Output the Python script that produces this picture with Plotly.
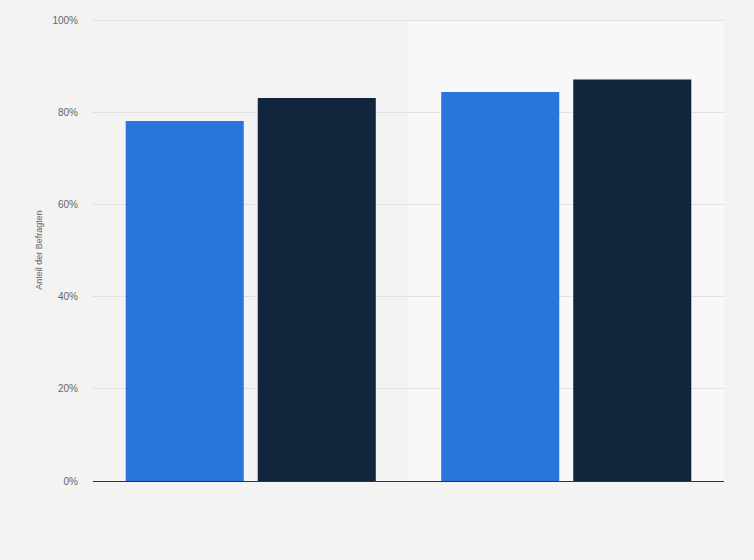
import plotly.graph_objects as go

# two unlabeled groups, two series each
categories = ["Gruppe 1", "Gruppe 2"]
series_a = [78.1, 84.4]
series_b = [83.1, 87.1]
series_names = ["Serie A", "Serie B"]
y_ticks = [0, 20, 40, 60, 80, 100]
y_tick_labels = ["0%", "20%", "40%", "60%", "80%", "100%"]

fig = go.Figure()
fig.add_trace(go.Bar(x=categories, y=series_a, name=series_names[0],
                     marker=dict(color="#2876dd", line=dict(width=0))))
fig.add_trace(go.Bar(x=categories, y=series_b, name=series_names[1],
                     marker=dict(color="#11263c", line=dict(width=0))))

# lighter band behind the second category
fig.add_shape(type="rect", xref="x", yref="y", x0=0.5, x1=1.5, y0=0, y1=100,
              fillcolor="#f8f8f8", line=dict(width=0), layer="below")

fig.update_layout(
    width=754, height=560,
    paper_bgcolor="#f3f3f3", plot_bgcolor="#f3f3f3",
    margin=dict(l=93, r=30, t=19, b=79),
    barmode="group", bargap=0.163, bargroupgap=0.106,
    showlegend=False,
    font=dict(family="Liberation Sans, Arial, sans-serif", color="#666666", size=10),
)
fig.update_xaxes(showticklabels=False, showgrid=False, zeroline=False,
                 showline=True, linecolor="#333333", linewidth=1,
                 range=[-0.5, 1.5], ticks="")
fig.update_yaxes(range=[0, 100.25], tickvals=y_ticks, ticktext=y_tick_labels,
                 showgrid=True, gridcolor="#cfcfcf", griddash="1px,1px", gridwidth=1,
                 zeroline=False, ticks="", ticklen=0, ticklabelstandoff=14,
                 tickfont=dict(size=10, color="#666666"),
                 title=dict(text="Anteil der Befragten", font=dict(size=9, color="#666666"),
                            standoff=8))

fig.write_html("out.html", config={"displayModeBar": False},
               post_script="document.body.style.margin='0';")
